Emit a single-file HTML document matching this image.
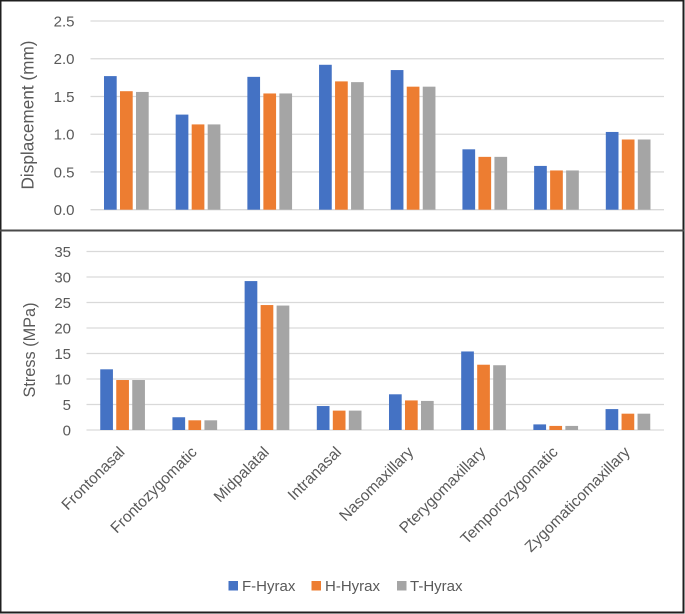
<!DOCTYPE html>
<html lang="en">
<head>
<meta charset="utf-8">
<title>Displacement and stress by suture</title>
<style>
html,body{margin:0;padding:0;background:#fff;width:685px;height:614px;overflow:hidden}
svg{display:block}
text{font-family:"Liberation Sans",Arial,sans-serif;fill:#595959}
</style>
</head>
<body>
<svg id="chart" width="685" height="614" viewBox="0 0 685 614" xmlns="http://www.w3.org/2000/svg">
  <rect x="0" y="0" width="685" height="614" fill="#ffffff"/>
  <g id="top-chart"></g>
  <g id="bottom-chart"></g>
  <g>
    <rect x="0.5" y="0.5" width="683" height="612" fill="none" stroke="#1f1f1f" stroke-width="2"/>
    <line x1="0" y1="230.5" x2="684" y2="230.5" stroke="#4a4a4a" stroke-width="2"/>
  </g>
  <g>
    <g>
      <rect x="228.5" y="581" width="9.5" height="9.5" fill="#4472c4"/>
      <text x="242" y="591" font-size="15">F-Hyrax</text>
    </g>
    <g>
      <rect x="311.5" y="581" width="9.5" height="9.5" fill="#ed7d31"/>
      <text x="325" y="591" font-size="15">H-Hyrax</text>
    </g>
    <g>
      <rect x="397" y="581" width="9.5" height="9.5" fill="#a5a5a5"/>
      <text x="410" y="591" font-size="15">T-Hyrax</text>
    </g>
  </g>
</svg>
<script>
const categories = ["Frontonasal","Frontozygomatic","Midpalatal","Intranasal","Nasomaxillary","Pterygomaxillary","Temporozygomatic","Zygomaticomaxillary"];
const seriesNames = ["F-Hyrax","H-Hyrax","T-Hyrax"];
const displacementF = [1.77,1.26,1.76,1.92,1.85,0.80,0.58,1.03];
const displacementH = [1.57,1.13,1.54,1.70,1.63,0.70,0.52,0.93];
const displacementT = [1.56,1.13,1.54,1.69,1.63,0.70,0.52,0.93];
const stressF = [11.9,2.5,29.2,4.7,7.0,15.4,1.1,4.1];
const stressH = [9.8,1.9,24.5,3.8,5.8,12.8,0.8,3.2];
const stressT = [9.8,1.9,24.4,3.8,5.7,12.7,0.8,3.2];
const displacementTicks = ["0.0","0.5","1.0","1.5","2.0","2.5"];
const stressTicks = ["0","5","10","15","20","25","30","35"];

const SVGNS = "http://www.w3.org/2000/svg";
const seriesColors = ["#4472c4","#ed7d31","#a5a5a5"];

function make(tag, attrs, parent, text) {
  const el = document.createElementNS(SVGNS, tag);
  for (const k in attrs) el.setAttribute(k, attrs[k]);
  if (text !== undefined) el.textContent = text;
  parent.appendChild(el);
  return el;
}
function slug(s) {
  return s.toLowerCase().replace(/[^a-z0-9]+/g, "-");
}

function drawPanel(parent, cfg) {
  const xBand = (cfg.right - cfg.left) / categories.length;
  const maxV = parseFloat(cfg.ticks[cfg.ticks.length - 1]);
  const yOf = v => cfg.bottom - (v / maxV) * (cfg.bottom - cfg.top);
  const xCenter = i => cfg.left + xBand * (i + 0.5);
  const barW = 12.7, barGap = 3.3;
  const groupW = barW * 3 + barGap * 2;

  cfg.ticks.forEach(t => {
    const y = yOf(parseFloat(t));
    const line = make("line", {x1: cfg.left, x2: cfg.right, y1: y, y2: y, stroke: "#d9d9d9", "stroke-width": 1.3}, parent);
    
    
    const label = make("text", {x: cfg.tickX, y: y + 5.4, "text-anchor": "end", "font-size": 15}, parent, t);
    
    
  });

  cfg.series.forEach((values, s) => {
    values.forEach((v, i) => {
      const x = xCenter(i) - groupW / 2 + s * (barW + barGap);
      const y = yOf(v);
      const bar = make("rect", {x: x, y: y, width: barW, height: cfg.bottom - y, fill: seriesColors[s]}, parent);
      
      
    });
  });

  const tx = cfg.titleX, ty = cfg.titleCenter;
  const title = make("text", {x: tx, y: ty, "text-anchor": "middle", "font-size": cfg.titleSize, transform: "rotate(-90 " + tx + " " + ty + ")"}, parent, cfg.title);
  
  

  if (cfg.showCategories) {
    categories.forEach((c, i) => {
      const x = xCenter(i) + 3, y = cfg.bottom + 23;
      const label = make("text", {x: x, y: y, "text-anchor": "end", "font-size": 15.5, transform: "rotate(-45 " + x + " " + y + ")"}, parent, c);
      
      
    });
  }
}

drawPanel(document.getElementById("top-chart"), {
  left: 90.5, right: 664, top: 21, bottom: 209.7,
  tickX: 74.5, titleX: 33.5, titleCenter: 115,
  title: "Displacement (mm)", titleSize: 17.2,
  ticks: displacementTicks,
  series: [displacementF, displacementH, displacementT],
  showCategories: false
});
drawPanel(document.getElementById("bottom-chart"), {
  left: 86.5, right: 664, top: 251.5, bottom: 430,
  tickX: 71, titleX: 35, titleCenter: 350,
  title: "Stress (MPa)", titleSize: 16.3,
  ticks: stressTicks,
  series: [stressF, stressH, stressT],
  showCategories: true
});
</script>
</body>
</html>
